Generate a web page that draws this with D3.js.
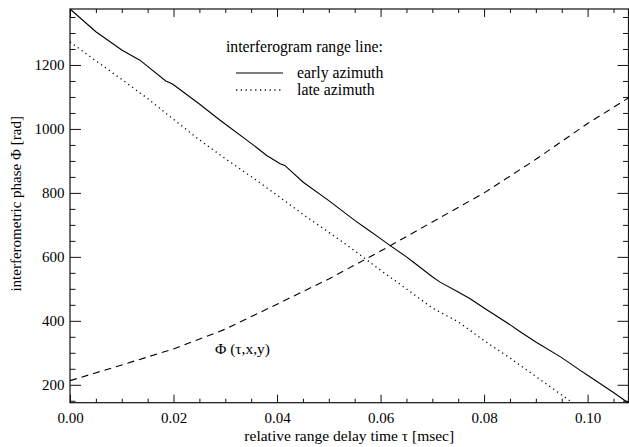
<!DOCTYPE html>
<html>
<head>
<meta charset="utf-8">
<script src="https://cdn.jsdelivr.net/npm/d3@7"></script>
<style>
  body { margin: 0; background: #fff; }
  text { font-family: "Liberation Serif", "Times New Roman", serif; fill: #000; }
</style>
</head>
<body>
<svg id="chart"></svg>
<script>
// early azimuth range line (solid)
const earlyTau = [0, 0.005, 0.01, 0.0135, 0.0185, 0.0195, 0.02, 0.025, 0.029, 0.035, 0.038, 0.0406, 0.0415, 0.045,
  0.05, 0.055, 0.0573, 0.06, 0.0618, 0.065, 0.0663, 0.07, 0.0715, 0.075, 0.0773, 0.08, 0.085, 0.0866,
  0.09, 0.095, 0.0985, 0.1, 0.105, 0.1078]
const earlyPhi = [1375, 1304, 1247, 1215, 1150, 1143, 1138, 1078, 1027, 955, 917, 891, 886, 834,
  776, 714, 688, 657, 636, 600, 584, 538, 521, 490, 469, 440, 388, 370,
  334, 285, 246, 230, 176, 144]

// late azimuth range line (dotted)
const lateTau = [0, 0.005, 0.01, 0.015, 0.02, 0.025, 0.03, 0.035, 0.04, 0.045, 0.05, 0.055, 0.06,
  0.065, 0.07, 0.075, 0.08, 0.085, 0.09, 0.095, 0.0969]
const latePhi = [1272, 1213, 1155, 1095, 1030, 966, 907, 851, 793, 733, 677, 619, 558,
  500, 440, 397, 338, 284, 226, 168, 146]

// modelled phase Phi(tau,x,y) (dashed)
const modelTau = [0, 0.01, 0.02, 0.03, 0.04, 0.05, 0.06, 0.07, 0.08, 0.09, 0.1, 0.108]
const modelPhi = [213, 262, 312, 374, 452, 531, 618, 709, 800, 905, 1017, 1098]

const xMajor = [0, 0.02, 0.04, 0.06, 0.08, 0.1]
const yMajor = [200, 400, 600, 800, 1000, 1200]

const width = 629
const height = 447
const margin = { top: 9, right: 0.5, bottom: 44.3, left: 70 }
const innerW = width - margin.left - margin.right
const innerH = height - margin.top - margin.bottom

const svg = d3.select('#chart')
  .attr('width', width)
  .attr('height', height)

const g = svg.append('g')
  .attr('transform', `translate(${margin.left},${margin.top})`)

const x = d3.scaleLinear().domain([0, 0.1079]).range([0, innerW])
const y = d3.scaleLinear().domain([144, 1375]).range([innerH, 0])

const xMinor = d3.range(0, 0.1079, 0.005).filter(v => !xMajor.some(m => Math.abs(m - v) < 1e-9))
const yMinor = d3.range(150, 1375, 50).filter(v => v % 200 !== 0)

// major + minor ticks on all four sides, pointing inward
function ticks(axisFn, scale, values, size, pos, labels, pad) {
  const a = g.append('g')
    .attr('transform', pos)
    .call(axisFn(scale).tickValues(values).tickSize(-size).tickPadding(pad || 0)
      .tickFormat(labels ? labels : ''))
  a.select('.domain').remove()
  a.selectAll('line').attr('stroke', '#111').attr('stroke-width', 1)
  return a
}

ticks(d3.axisBottom, x, xMajor, 8, `translate(0,${innerH})`, d3.format('.2f'), 10)
ticks(d3.axisBottom, x, xMinor, 4, `translate(0,${innerH})`)
ticks(d3.axisTop, x, xMajor, 8, 'translate(0,0)')
ticks(d3.axisTop, x, xMinor, 4, 'translate(0,0)')
ticks(d3.axisLeft, y, yMajor, 11, 'translate(0,0)', d3.format('d'), 5.5)
ticks(d3.axisLeft, y, yMinor, 5.5, 'translate(0,0)')
ticks(d3.axisRight, y, yMajor, 11, `translate(${innerW},0)`)
ticks(d3.axisRight, y, yMinor, 5.5, `translate(${innerW},0)`)

svg.selectAll('.tick text')
  .attr('font-size', 15)
  .attr('fill', '#000')

// frame
g.append('rect')
  .attr('width', innerW)
  .attr('height', innerH)
  .attr('fill', 'none')
  .attr('stroke', '#111')
  .attr('stroke-width', 1.2)

const line = d3.line().x(d => x(d[0])).y(d => y(d[1]))

g.append('path')
  .datum(earlyTau.map((t, i) => [t, earlyPhi[i]]))
  .attr('d', line)
  .attr('fill', 'none')
  .attr('stroke', '#000')
  .attr('stroke-width', 1.1)

g.append('path')
  .datum(lateTau.map((t, i) => [t, latePhi[i]]))
  .attr('d', line)
  .attr('fill', 'none')
  .attr('stroke', '#000')
  .attr('stroke-width', 1.3)
  .attr('stroke-dasharray', '1.2,3.6')

g.append('path')
  .datum(modelTau.map((t, i) => [t, modelPhi[i]]))
  .attr('d', line)
  .attr('fill', 'none')
  .attr('stroke', '#000')
  .attr('stroke-width', 1.1)
  .attr('stroke-dasharray', '7,5')

// axis titles
svg.append('text')
  .attr('x', margin.left + innerW / 2)
  .attr('y', 440.5)
  .attr('text-anchor', 'middle')
  .attr('font-size', 15.5)
  .text('relative range delay time τ [msec]')

svg.append('text')
  .attr('transform', `translate(21,${margin.top + innerH / 2 - 2}) rotate(-90)`)
  .attr('text-anchor', 'middle')
  .attr('font-size', 15)
  .text('interferometric phase Φ [rad]')

// legend
svg.append('text')
  .attr('x', 226)
  .attr('y', 52)
  .attr('font-size', 15.7)
  .text('interferogram range line:')

const legend = [
  { label: 'early azimuth', dash: null, y: 73 },
  { label: 'late azimuth', dash: '1.2,3.6', y: 90 }
]
legend.forEach(d => {
  svg.append('line')
    .attr('x1', 236).attr('x2', 283)
    .attr('y1', d.y).attr('y2', d.y)
    .attr('stroke', '#000')
    .attr('stroke-width', d.dash ? 1.3 : 1.1)
    .attr('stroke-dasharray', d.dash)
  svg.append('text')
    .attr('x', 297)
    .attr('y', d.y + 5)
    .attr('font-size', 15.8)
    .text(d.label)
})

svg.append('text')
  .attr('x', 215)
  .attr('y', 354)
  .attr('font-size', 15.5)
  .text('Φ (τ,x,y)')
</script>
</body>
</html>
